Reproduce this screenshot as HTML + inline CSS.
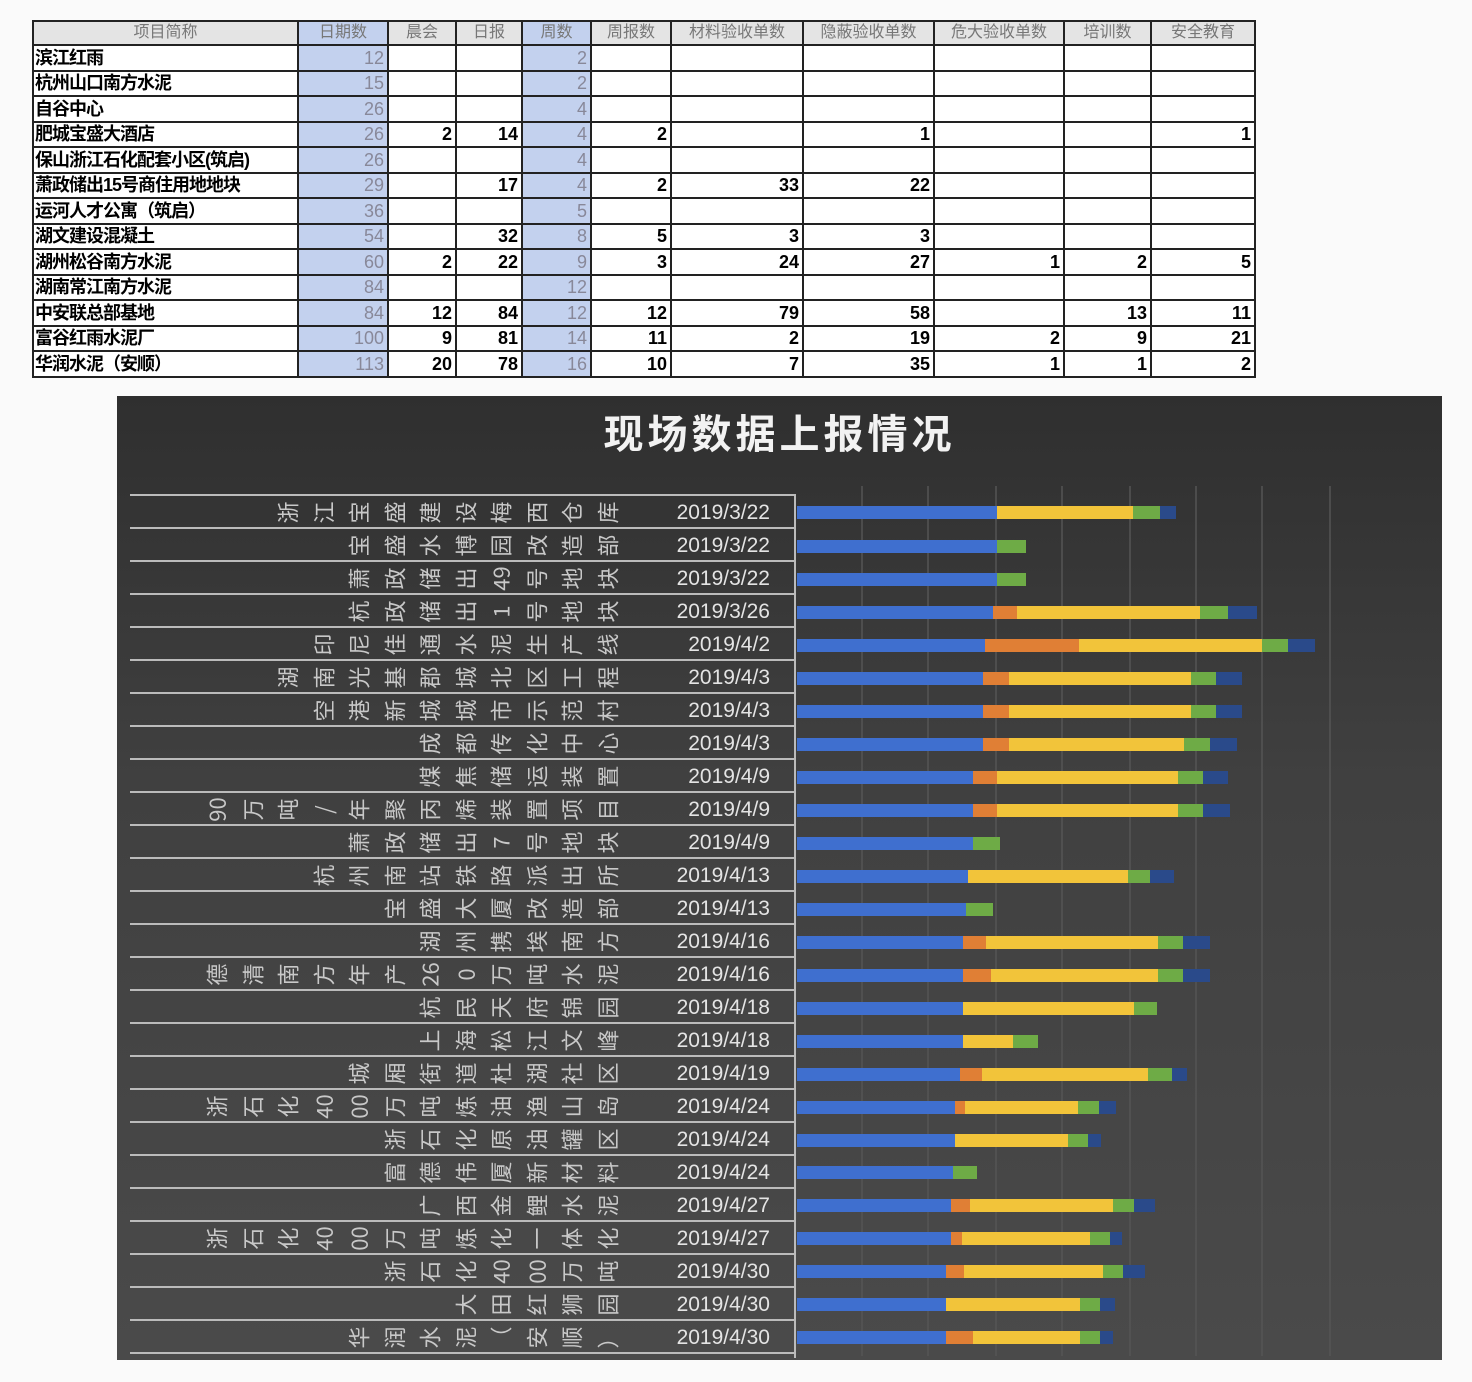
<!DOCTYPE html>
<html><head><meta charset="utf-8"><style>
body{margin:0;width:1472px;height:1382px;background:#fafafa;position:relative;overflow:hidden;font-family:"Liberation Sans","Noto Sans CJK SC",sans-serif}
table{position:absolute;left:32px;top:20px;border-collapse:collapse;table-layout:fixed;background:#fff}
td{border:2px solid #222;height:23.5px;padding:0 3px;font-size:18px;font-weight:bold;text-align:right;line-height:22px;white-space:nowrap;overflow:hidden}
tr.h td{background:#e4e4e4;color:#777;font-weight:normal;text-align:center;font-size:16px;height:22px}
tr.h td.b{background:#c3d1ee}
td.n{text-align:left;letter-spacing:-1px;padding-left:1px}
td.b{background:#c3d1ee;color:#889;font-weight:normal}
#ch{position:absolute;left:117px;top:396px;width:1325px;height:964px;background:linear-gradient(180deg,#2f2f2f 0%,#404040 40%,#4a4a4a 100%)}
#title{position:absolute;left:0;width:1325px;top:6px;text-align:center;color:#f2f2f2;font-size:40px;font-weight:bold;letter-spacing:4px;font-family:"Noto Sans CJK SC",sans-serif}
.r{position:absolute;left:13px;width:665px;height:33px;border-top:2px solid #bbb;}
.nm{position:absolute;right:170px;top:2px;display:flex;flex-direction:row}
.nm span{display:inline-block;width:35.5px;text-align:center;transform:rotate(-90deg);color:#c8c8c8;font-size:22px;line-height:29px;font-family:"Noto Sans CJK SC",sans-serif}
.dt{position:absolute;right:25px;top:3px;color:#e4e4e4;font-size:21px;line-height:27px}
</style></head><body>
<table>
<colgroup><col style="width:265px"><col style="width:90px"><col style="width:68px"><col style="width:66px"><col style="width:69px"><col style="width:80px"><col style="width:132px"><col style="width:131px"><col style="width:130px"><col style="width:87px"><col style="width:104px"></colgroup>
<tr class="h"><td>项目简称</td><td class="b">日期数</td><td>晨会</td><td>日报</td><td class="b">周数</td><td>周报数</td><td>材料验收单数</td><td>隐蔽验收单数</td><td>危大验收单数</td><td>培训数</td><td>安全教育</td></tr>
<tr><td class="n">滨江红雨</td><td class="b">12</td><td></td><td></td><td class="b">2</td><td></td><td></td><td></td><td></td><td></td><td></td></tr>
<tr><td class="n">杭州山口南方水泥</td><td class="b">15</td><td></td><td></td><td class="b">2</td><td></td><td></td><td></td><td></td><td></td><td></td></tr>
<tr><td class="n">自谷中心</td><td class="b">26</td><td></td><td></td><td class="b">4</td><td></td><td></td><td></td><td></td><td></td><td></td></tr>
<tr><td class="n">肥城宝盛大酒店</td><td class="b">26</td><td>2</td><td>14</td><td class="b">4</td><td>2</td><td></td><td>1</td><td></td><td></td><td>1</td></tr>
<tr><td class="n">保山浙江石化配套小区(筑启)</td><td class="b">26</td><td></td><td></td><td class="b">4</td><td></td><td></td><td></td><td></td><td></td><td></td></tr>
<tr><td class="n">萧政储出15号商住用地地块</td><td class="b">29</td><td></td><td>17</td><td class="b">4</td><td>2</td><td>33</td><td>22</td><td></td><td></td><td></td></tr>
<tr><td class="n">运河人才公寓（筑启）</td><td class="b">36</td><td></td><td></td><td class="b">5</td><td></td><td></td><td></td><td></td><td></td><td></td></tr>
<tr><td class="n">湖文建设混凝土</td><td class="b">54</td><td></td><td>32</td><td class="b">8</td><td>5</td><td>3</td><td>3</td><td></td><td></td><td></td></tr>
<tr><td class="n">湖州松谷南方水泥</td><td class="b">60</td><td>2</td><td>22</td><td class="b">9</td><td>3</td><td>24</td><td>27</td><td>1</td><td>2</td><td>5</td></tr>
<tr><td class="n">湖南常江南方水泥</td><td class="b">84</td><td></td><td></td><td class="b">12</td><td></td><td></td><td></td><td></td><td></td><td></td></tr>
<tr><td class="n">中安联总部基地</td><td class="b">84</td><td>12</td><td>84</td><td class="b">12</td><td>12</td><td>79</td><td>58</td><td></td><td>13</td><td>11</td></tr>
<tr><td class="n">富谷红雨水泥厂</td><td class="b">100</td><td>9</td><td>81</td><td class="b">14</td><td>11</td><td>2</td><td>19</td><td>2</td><td>9</td><td>21</td></tr>
<tr><td class="n">华润水泥（安顺）</td><td class="b">113</td><td>20</td><td>78</td><td class="b">16</td><td>10</td><td>7</td><td>35</td><td>1</td><td>1</td><td>2</td></tr>
</table>

<div id="ch">
<div id="title">现场数据上报情况</div>
<svg width="1325" height="964" style="position:absolute;left:0;top:0">
<g stroke="#555" stroke-width="1.5">
<line x1="745" y1="90" x2="745" y2="960"/><line x1="811" y1="90" x2="811" y2="960"/><line x1="879" y1="90" x2="879" y2="960"/><line x1="945" y1="90" x2="945" y2="960"/><line x1="1013" y1="90" x2="1013" y2="960"/><line x1="1079" y1="90" x2="1079" y2="960"/><line x1="1145" y1="90" x2="1145" y2="960"/><line x1="1213" y1="90" x2="1213" y2="960"/>
</g>
<line x1="678" y1="98" x2="678" y2="962" stroke="#bbb" stroke-width="2"/>
</svg>
<svg width="1325" height="964" style="position:absolute;left:0;top:0">
<g transform="translate(-117,-396)">
<rect x="797" y="506" width="200" height="13" fill="#3f6fcf"/><rect x="997" y="506" width="136" height="13" fill="#f2c43a"/><rect x="1133" y="506" width="27" height="13" fill="#6eab46"/><rect x="1160" y="506" width="16" height="13" fill="#2a4a8a"/>
<rect x="797" y="540" width="200" height="13" fill="#3f6fcf"/><rect x="997" y="540" width="29" height="13" fill="#6eab46"/>
<rect x="797" y="573" width="200" height="13" fill="#3f6fcf"/><rect x="997" y="573" width="29" height="13" fill="#6eab46"/>
<rect x="797" y="606" width="196" height="13" fill="#3f6fcf"/><rect x="993" y="606" width="24" height="13" fill="#e07f35"/><rect x="1017" y="606" width="183" height="13" fill="#f2c43a"/><rect x="1200" y="606" width="28" height="13" fill="#6eab46"/><rect x="1228" y="606" width="29" height="13" fill="#2a4a8a"/>
<rect x="797" y="639" width="188" height="13" fill="#3f6fcf"/><rect x="985" y="639" width="94" height="13" fill="#e07f35"/><rect x="1079" y="639" width="183" height="13" fill="#f2c43a"/><rect x="1262" y="639" width="26" height="13" fill="#6eab46"/><rect x="1288" y="639" width="27" height="13" fill="#2a4a8a"/>
<rect x="797" y="672" width="186" height="13" fill="#3f6fcf"/><rect x="983" y="672" width="26" height="13" fill="#e07f35"/><rect x="1009" y="672" width="182" height="13" fill="#f2c43a"/><rect x="1191" y="672" width="25" height="13" fill="#6eab46"/><rect x="1216" y="672" width="26" height="13" fill="#2a4a8a"/>
<rect x="797" y="705" width="186" height="13" fill="#3f6fcf"/><rect x="983" y="705" width="26" height="13" fill="#e07f35"/><rect x="1009" y="705" width="182" height="13" fill="#f2c43a"/><rect x="1191" y="705" width="25" height="13" fill="#6eab46"/><rect x="1216" y="705" width="26" height="13" fill="#2a4a8a"/>
<rect x="797" y="738" width="186" height="13" fill="#3f6fcf"/><rect x="983" y="738" width="26" height="13" fill="#e07f35"/><rect x="1009" y="738" width="175" height="13" fill="#f2c43a"/><rect x="1184" y="738" width="26" height="13" fill="#6eab46"/><rect x="1210" y="738" width="27" height="13" fill="#2a4a8a"/>
<rect x="797" y="771" width="176" height="13" fill="#3f6fcf"/><rect x="973" y="771" width="24" height="13" fill="#e07f35"/><rect x="997" y="771" width="181" height="13" fill="#f2c43a"/><rect x="1178" y="771" width="25" height="13" fill="#6eab46"/><rect x="1203" y="771" width="25" height="13" fill="#2a4a8a"/>
<rect x="797" y="804" width="176" height="13" fill="#3f6fcf"/><rect x="973" y="804" width="24" height="13" fill="#e07f35"/><rect x="997" y="804" width="181" height="13" fill="#f2c43a"/><rect x="1178" y="804" width="25" height="13" fill="#6eab46"/><rect x="1203" y="804" width="27" height="13" fill="#2a4a8a"/>
<rect x="797" y="837" width="176" height="13" fill="#3f6fcf"/><rect x="973" y="837" width="27" height="13" fill="#6eab46"/>
<rect x="797" y="870" width="171" height="13" fill="#3f6fcf"/><rect x="968" y="870" width="160" height="13" fill="#f2c43a"/><rect x="1128" y="870" width="22" height="13" fill="#6eab46"/><rect x="1150" y="870" width="24" height="13" fill="#2a4a8a"/>
<rect x="797" y="903" width="169" height="13" fill="#3f6fcf"/><rect x="966" y="903" width="27" height="13" fill="#6eab46"/>
<rect x="797" y="936" width="166" height="13" fill="#3f6fcf"/><rect x="963" y="936" width="23" height="13" fill="#e07f35"/><rect x="986" y="936" width="172" height="13" fill="#f2c43a"/><rect x="1158" y="936" width="25" height="13" fill="#6eab46"/><rect x="1183" y="936" width="27" height="13" fill="#2a4a8a"/>
<rect x="797" y="969" width="166" height="13" fill="#3f6fcf"/><rect x="963" y="969" width="28" height="13" fill="#e07f35"/><rect x="991" y="969" width="167" height="13" fill="#f2c43a"/><rect x="1158" y="969" width="25" height="13" fill="#6eab46"/><rect x="1183" y="969" width="27" height="13" fill="#2a4a8a"/>
<rect x="797" y="1002" width="166" height="13" fill="#3f6fcf"/><rect x="963" y="1002" width="171" height="13" fill="#f2c43a"/><rect x="1134" y="1002" width="23" height="13" fill="#6eab46"/>
<rect x="797" y="1035" width="166" height="13" fill="#3f6fcf"/><rect x="963" y="1035" width="50" height="13" fill="#f2c43a"/><rect x="1013" y="1035" width="25" height="13" fill="#6eab46"/>
<rect x="797" y="1068" width="163" height="13" fill="#3f6fcf"/><rect x="960" y="1068" width="22" height="13" fill="#e07f35"/><rect x="982" y="1068" width="166" height="13" fill="#f2c43a"/><rect x="1148" y="1068" width="24" height="13" fill="#6eab46"/><rect x="1172" y="1068" width="15" height="13" fill="#2a4a8a"/>
<rect x="797" y="1101" width="158" height="13" fill="#3f6fcf"/><rect x="955" y="1101" width="10" height="13" fill="#e07f35"/><rect x="965" y="1101" width="113" height="13" fill="#f2c43a"/><rect x="1078" y="1101" width="21" height="13" fill="#6eab46"/><rect x="1099" y="1101" width="17" height="13" fill="#2a4a8a"/>
<rect x="797" y="1134" width="158" height="13" fill="#3f6fcf"/><rect x="955" y="1134" width="113" height="13" fill="#f2c43a"/><rect x="1068" y="1134" width="20" height="13" fill="#6eab46"/><rect x="1088" y="1134" width="13" height="13" fill="#2a4a8a"/>
<rect x="797" y="1166" width="156" height="13" fill="#3f6fcf"/><rect x="953" y="1166" width="24" height="13" fill="#6eab46"/>
<rect x="797" y="1199" width="154" height="13" fill="#3f6fcf"/><rect x="951" y="1199" width="19" height="13" fill="#e07f35"/><rect x="970" y="1199" width="143" height="13" fill="#f2c43a"/><rect x="1113" y="1199" width="21" height="13" fill="#6eab46"/><rect x="1134" y="1199" width="21" height="13" fill="#2a4a8a"/>
<rect x="797" y="1232" width="154" height="13" fill="#3f6fcf"/><rect x="951" y="1232" width="11" height="13" fill="#e07f35"/><rect x="962" y="1232" width="128" height="13" fill="#f2c43a"/><rect x="1090" y="1232" width="20" height="13" fill="#6eab46"/><rect x="1110" y="1232" width="12" height="13" fill="#2a4a8a"/>
<rect x="797" y="1265" width="149" height="13" fill="#3f6fcf"/><rect x="946" y="1265" width="18" height="13" fill="#e07f35"/><rect x="964" y="1265" width="139" height="13" fill="#f2c43a"/><rect x="1103" y="1265" width="20" height="13" fill="#6eab46"/><rect x="1123" y="1265" width="22" height="13" fill="#2a4a8a"/>
<rect x="797" y="1298" width="149" height="13" fill="#3f6fcf"/><rect x="946" y="1298" width="134" height="13" fill="#f2c43a"/><rect x="1080" y="1298" width="20" height="13" fill="#6eab46"/><rect x="1100" y="1298" width="15" height="13" fill="#2a4a8a"/>
<rect x="797" y="1331" width="149" height="13" fill="#3f6fcf"/><rect x="946" y="1331" width="27" height="13" fill="#e07f35"/><rect x="973" y="1331" width="107" height="13" fill="#f2c43a"/><rect x="1080" y="1331" width="20" height="13" fill="#6eab46"/><rect x="1100" y="1331" width="13" height="13" fill="#2a4a8a"/>
</g></svg>

<div class="r" style="top:98px"><div class="nm"><span>浙</span><span>江</span><span>宝</span><span>盛</span><span>建</span><span>设</span><span>梅</span><span>西</span><span>仓</span><span>库</span></div><div class="dt">2019/3/22</div></div>
<div class="r" style="top:131px"><div class="nm"><span>宝</span><span>盛</span><span>水</span><span>博</span><span>园</span><span>改</span><span>造</span><span>部</span></div><div class="dt">2019/3/22</div></div>
<div class="r" style="top:164px"><div class="nm"><span>萧</span><span>政</span><span>储</span><span>出</span><span>49</span><span>号</span><span>地</span><span>块</span></div><div class="dt">2019/3/22</div></div>
<div class="r" style="top:197px"><div class="nm"><span>杭</span><span>政</span><span>储</span><span>出</span><span>1</span><span>号</span><span>地</span><span>块</span></div><div class="dt">2019/3/26</div></div>
<div class="r" style="top:230px"><div class="nm"><span>印</span><span>尼</span><span>佳</span><span>通</span><span>水</span><span>泥</span><span>生</span><span>产</span><span>线</span></div><div class="dt">2019/4/2</div></div>
<div class="r" style="top:263px"><div class="nm"><span>湖</span><span>南</span><span>光</span><span>基</span><span>郡</span><span>城</span><span>北</span><span>区</span><span>工</span><span>程</span></div><div class="dt">2019/4/3</div></div>
<div class="r" style="top:296px"><div class="nm"><span>空</span><span>港</span><span>新</span><span>城</span><span>城</span><span>市</span><span>示</span><span>范</span><span>村</span></div><div class="dt">2019/4/3</div></div>
<div class="r" style="top:329px"><div class="nm"><span>成</span><span>都</span><span>传</span><span>化</span><span>中</span><span>心</span></div><div class="dt">2019/4/3</div></div>
<div class="r" style="top:362px"><div class="nm"><span>煤</span><span>焦</span><span>储</span><span>运</span><span>装</span><span>置</span></div><div class="dt">2019/4/9</div></div>
<div class="r" style="top:395px"><div class="nm"><span>90</span><span>万</span><span>吨</span><span>/</span><span>年</span><span>聚</span><span>丙</span><span>烯</span><span>装</span><span>置</span><span>项</span><span>目</span></div><div class="dt">2019/4/9</div></div>
<div class="r" style="top:428px"><div class="nm"><span>萧</span><span>政</span><span>储</span><span>出</span><span>7</span><span>号</span><span>地</span><span>块</span></div><div class="dt">2019/4/9</div></div>
<div class="r" style="top:461px"><div class="nm"><span>杭</span><span>州</span><span>南</span><span>站</span><span>铁</span><span>路</span><span>派</span><span>出</span><span>所</span></div><div class="dt">2019/4/13</div></div>
<div class="r" style="top:494px"><div class="nm"><span>宝</span><span>盛</span><span>大</span><span>厦</span><span>改</span><span>造</span><span>部</span></div><div class="dt">2019/4/13</div></div>
<div class="r" style="top:527px"><div class="nm"><span>湖</span><span>州</span><span>携</span><span>埃</span><span>南</span><span>方</span></div><div class="dt">2019/4/16</div></div>
<div class="r" style="top:560px"><div class="nm"><span>德</span><span>清</span><span>南</span><span>方</span><span>年</span><span>产</span><span>26</span><span>0</span><span>万</span><span>吨</span><span>水</span><span>泥</span></div><div class="dt">2019/4/16</div></div>
<div class="r" style="top:593px"><div class="nm"><span>杭</span><span>民</span><span>天</span><span>府</span><span>锦</span><span>园</span></div><div class="dt">2019/4/18</div></div>
<div class="r" style="top:626px"><div class="nm"><span>上</span><span>海</span><span>松</span><span>江</span><span>文</span><span>峰</span></div><div class="dt">2019/4/18</div></div>
<div class="r" style="top:659px"><div class="nm"><span>城</span><span>厢</span><span>街</span><span>道</span><span>杜</span><span>湖</span><span>社</span><span>区</span></div><div class="dt">2019/4/19</div></div>
<div class="r" style="top:692px"><div class="nm"><span>浙</span><span>石</span><span>化</span><span>40</span><span>00</span><span>万</span><span>吨</span><span>炼</span><span>油</span><span>渔</span><span>山</span><span>岛</span></div><div class="dt">2019/4/24</div></div>
<div class="r" style="top:725px"><div class="nm"><span>浙</span><span>石</span><span>化</span><span>原</span><span>油</span><span>罐</span><span>区</span></div><div class="dt">2019/4/24</div></div>
<div class="r" style="top:758px"><div class="nm"><span>富</span><span>德</span><span>伟</span><span>厦</span><span>新</span><span>材</span><span>料</span></div><div class="dt">2019/4/24</div></div>
<div class="r" style="top:791px"><div class="nm"><span>广</span><span>西</span><span>金</span><span>鲤</span><span>水</span><span>泥</span></div><div class="dt">2019/4/27</div></div>
<div class="r" style="top:824px"><div class="nm"><span>浙</span><span>石</span><span>化</span><span>40</span><span>00</span><span>万</span><span>吨</span><span>炼</span><span>化</span><span>一</span><span>体</span><span>化</span></div><div class="dt">2019/4/27</div></div>
<div class="r" style="top:857px"><div class="nm"><span>浙</span><span>石</span><span>化</span><span>40</span><span>00</span><span>万</span><span>吨</span></div><div class="dt">2019/4/30</div></div>
<div class="r" style="top:890px"><div class="nm"><span>大</span><span>田</span><span>红</span><span>狮</span><span>园</span></div><div class="dt">2019/4/30</div></div>
<div class="r" style="top:923px"><div class="nm"><span>华</span><span>润</span><span>水</span><span>泥</span><span>（</span><span>安</span><span>顺</span><span>）</span></div><div class="dt">2019/4/30</div></div>
<div class="r" style="top:956px;height:4px"></div>
</div>
</body></html>
